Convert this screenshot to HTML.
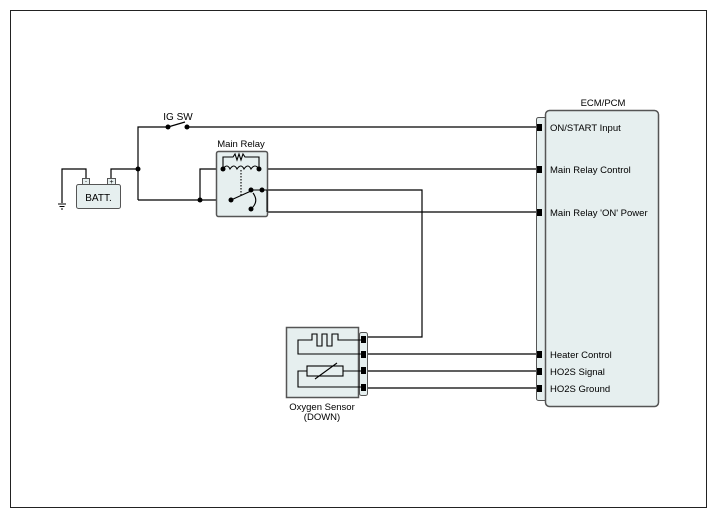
<!DOCTYPE html>
<html><head><meta charset="utf-8"><style>
body{margin:0;background:#fff;}
svg{display:block;font-family:"Liberation Sans",Arial,sans-serif;}
</style></head><body>
<svg width="717" height="518" viewBox="0 0 717 518" xmlns="http://www.w3.org/2000/svg">
<rect x="10.5" y="10.5" width="696" height="497" fill="#fff" stroke="#222" stroke-width="1"/>
<g fill="none" stroke="#000" stroke-width="1.2">
<polyline points="62,203 62,169 86,169 86,179"/>
<polyline points="111,179 111,169 138,169"/>
<polyline points="138,200 138,127 168,127"/>
<polyline points="168,127 185,122"/>
<line x1="187" y1="127" x2="540" y2="127"/>
<polyline points="138,200 231,200"/>
<polyline points="200,200 200,169 223,169"/>
<line x1="259" y1="169" x2="540" y2="169"/>
<polyline points="251,190 422,190 422,337 363,337"/>
<polyline points="262,190 267,190 267,212 540,212"/>
<line x1="363" y1="354" x2="540" y2="354"/>
<line x1="363" y1="371" x2="540" y2="371"/>
<line x1="363" y1="388" x2="540" y2="388"/>
</g>
<g stroke="#000" stroke-width="1"><line x1="58" y1="204" x2="66" y2="204"/><line x1="59.5" y1="206.5" x2="64.5" y2="206.5"/><line x1="61" y1="209" x2="63" y2="209"/></g>
<rect x="76.5" y="184.5" width="44" height="24" rx="2" fill="#e6efef" stroke="#555"/>
<rect x="82.5" y="178.5" width="7" height="6" fill="#e6efef" stroke="#555"/>
<rect x="107.5" y="178.5" width="8" height="6" fill="#e6efef" stroke="#555"/>
<text x="86" y="183" font-size="6" text-anchor="middle">-</text>
<text x="111.5" y="184" font-size="7" text-anchor="middle">+</text>
<text x="98.5" y="201" font-size="10" text-anchor="middle">BATT.</text>
<text x="178" y="120" font-size="10" text-anchor="middle">IG SW</text>
<rect x="216.5" y="151.5" width="51" height="65" rx="2" fill="#e6efef" stroke="#555" stroke-width="1.5"/>
<text x="241" y="147" font-size="9.5" text-anchor="middle">Main Relay</text>
<g fill="none" stroke="#000" stroke-width="1.1">
<polyline points="223,169 223,157 233,157 235,154 237,160 239,154 241,160 243,154 245,157 259,157 259,169"/>
<path d="M223,169 q4,-6 7,0 q4,-6 7,0 q4,-6 7,0 q4,-6 7,0 q4,-6 8,0"/>
<line x1="241" y1="170" x2="241" y2="195" stroke-dasharray="1.5,1.5"/>
<line x1="231" y1="200" x2="251" y2="191"/>
<path d="M253,193 q6,8 -1,15"/>
<polyline points="251,190 267,190 267,212"/>
</g>
<g fill="#000">
<circle cx="138" cy="169" r="2.5"/><circle cx="200" cy="200" r="2.5"/>
<circle cx="168" cy="127" r="2.5"/><circle cx="187" cy="127" r="2.5"/>
<circle cx="223" cy="169" r="2.5"/><circle cx="259" cy="169" r="2.5"/>
<circle cx="231" cy="200" r="2.5"/><circle cx="251" cy="190" r="2.5"/>
<circle cx="262" cy="190" r="2.5"/><circle cx="251" cy="209" r="2.5"/>
</g>
<rect x="359.5" y="332.5" width="8" height="63" rx="2" fill="#e6efef" stroke="#555"/>
<rect x="286.5" y="327.5" width="72" height="70" fill="#e6efef" stroke="#555" stroke-width="1.5"/>
<g fill="none" stroke="#000" stroke-width="1.1">
<polyline points="363,340 338,340 338,334 332,334 332,346 327,346 327,334 322,334 322,346 317,346 317,334 312,334 312,340 298,340 298,354 363,354"/>
<rect x="307" y="366" width="36" height="10"/>
<polyline points="343,371 363,371"/>
<polyline points="307,371 298,371 298,387 363,387"/>
<line x1="315" y1="379" x2="337" y2="363"/>
</g>
<g fill="#000"><rect x="361" y="336" width="5" height="7"/><rect x="361" y="351" width="5" height="7"/><rect x="361" y="367" width="5" height="7"/><rect x="361" y="384" width="5" height="7"/></g>
<text x="322" y="410" font-size="9.5" text-anchor="middle">Oxygen Sensor</text>
<text x="322" y="420" font-size="9.5" text-anchor="middle">(DOWN)</text>
<rect x="536.5" y="117.5" width="10" height="283" rx="2" fill="#e6efef" stroke="#555"/>
<rect x="545.5" y="110.5" width="113" height="296" rx="4" fill="#e6efef" stroke="#555" stroke-width="1.5"/>
<text x="603" y="106" font-size="9.5" text-anchor="middle">ECM/PCM</text>
<g fill="#000"><rect x="537" y="124" width="5" height="7"/><rect x="537" y="166" width="5" height="7"/><rect x="537" y="209" width="5" height="7"/><rect x="537" y="351" width="5" height="7"/><rect x="537" y="368" width="5" height="7"/><rect x="537" y="385" width="5" height="7"/></g>
<g font-size="9.5">
<text x="550" y="131">ON/START Input</text>
<text x="550" y="173">Main Relay Control</text>
<text x="550" y="216">Main Relay 'ON' Power</text>
<text x="550" y="358">Heater Control</text>
<text x="550" y="375">HO2S  Signal</text>
<text x="550" y="392">HO2S  Ground</text>
</g>
</svg>
</body></html>
